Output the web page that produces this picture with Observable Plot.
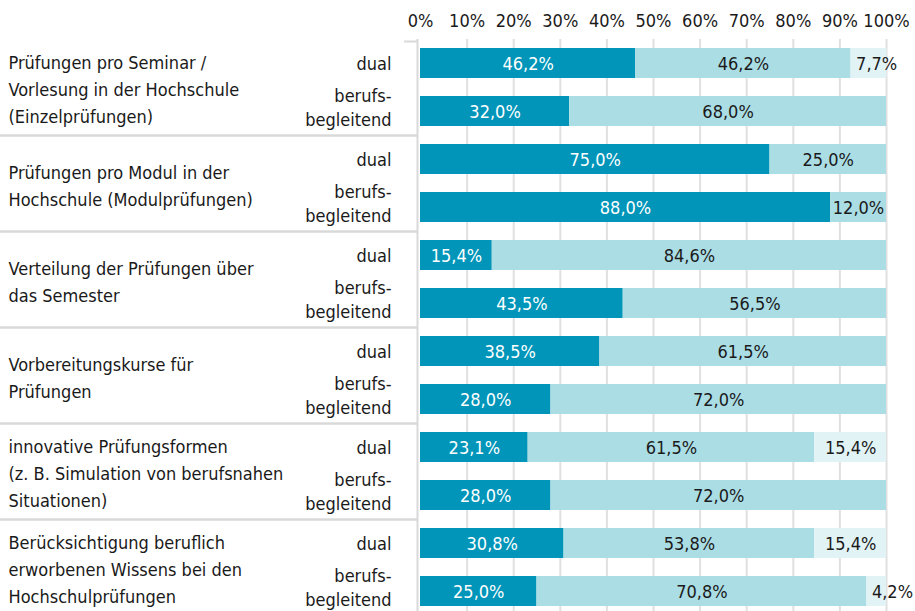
<!DOCTYPE html>
<html>
<head>
<meta charset="utf-8">
<script src="https://cdn.jsdelivr.net/npm/d3@7"></script>
<script src="https://cdn.jsdelivr.net/npm/@observablehq/plot@0.6"></script>
<style>
  html, body { margin: 0; padding: 0; background: #fff; }
  #chart svg { display: block; }
</style>
</head>
<body>
<div id="chart"></div>
<script>
const categories = [
  "Prüfungen pro Seminar /\nVorlesung in der Hochschule\n(Einzelprüfungen)",
  "Prüfungen pro Modul in der\nHochschule (Modulprüfungen)",
  "Verteilung der Prüfungen über\ndas Semester",
  "Vorbereitungskurse für\nPrüfungen",
  "innovative Prüfungsformen\n(z. B. Simulation von berufsnahen\nSituationen)",
  "Berücksichtigung beruflich\nerworbenen Wissens bei den\nHochschulprüfungen"
];
const types = ["dual", "berufs-\nbegleitend"];
// per row: category 0 dual, category 0 berufsbegleitend, category 1 dual, ...
const seg1 = [46.2, 32.0, 75.0, 88.0, 15.4, 43.5, 38.5, 28.0, 23.1, 28.0, 30.8, 25.0];
const seg2 = [46.2, 68.0, 25.0, 12.0, 84.6, 56.5, 61.5, 72.0, 61.5, 72.0, 53.8, 70.8];
const seg3 = [7.7, 0, 0, 0, 0, 0, 0, 0, 15.4, 0, 15.4, 4.2];
const xTicks = [0, 10, 20, 30, 40, 50, 60, 70, 80, 90, 100];

const colors = ["#0095b9", "#abdde5", "#e2f3f6"];
const textColors = ["#ffffff", "#1a1a1a", "#1a1a1a"];
const fontFamily = "'Liberation Sans Narrow', 'DejaVu Sans Condensed', 'Roboto', sans-serif";

const rows = d3.range(seg1.length);
const segData = [];
rows.forEach(r => {
  const vals = [seg1[r], seg2[r], seg3[r]];
  let acc = 0;
  vals.forEach((v, s) => {
    if (v > 0) {
      segData.push({row: r, seg: s, value: v, x1: acc, x2: acc + v, mid: acc + v / 2});
    }
    acc += v;
  });
});
const fmt = v => d3.format(".1f")(v).replace(".", ",") + "%";
const bigLabels = segData.filter(d => d.value >= 9);
const smallLabels = segData.filter(d => d.value < 9);

const dualRows = rows.filter(r => r % 2 === 0);
const bbRows = rows.filter(r => r % 2 === 1);
const catData = categories.map((c, i) => ({row: i * 2, text: c}));
const sepRows = bbRows.slice(0, -1);

const chart = Plot.plot({
  width: 915,
  height: 615,
  marginTop: 39,
  marginBottom: 0,
  marginLeft: 420,
  marginRight: 29,
  style: {fontFamily, fontSize: "18px", color: "#1a1a1a", background: "#fff"},
  x: {domain: [0, 100], axis: "top", ticks: xTicks, tickFormat: d => d + "%", tickSize: 0, tickPadding: 13, label: null},
  y: {type: "band", domain: rows, paddingInner: 0.375, paddingOuter: 0.1875, axis: null},
  marks: [
    Plot.ruleX(xTicks.filter(t => t > 0), {x: d => d, stroke: "#e0e0e0", strokeWidth: 2}),
    Plot.ruleX([0], {x: d => d, dx: -3, stroke: "#d9d9d9", strokeWidth: 2}),
    Plot.ruleY(sepRows, {y: d => d, dy: 24, stroke: "#d9d9d9", strokeWidth: 2.5, insetLeft: -420, insetRight: 469}),
    Plot.ruleY([0], {y: d => d, dy: -22, stroke: "#d9d9d9", strokeWidth: 2, insetLeft: -16, insetRight: 469}),
    Plot.barX(segData, {y: "row", x1: "x1", x2: "x2", fill: d => colors[d.seg]}),
    Plot.text(bigLabels, {y: "row", x: "mid", text: d => fmt(d.value), fill: d => textColors[d.seg], dy: 1}),
    Plot.text(smallLabels, {y: "row", x: "x1", text: d => fmt(d.value), fill: d => textColors[d.seg], textAnchor: "start", dx: 5, dy: 1}),
    Plot.text(catData, {y: "row", text: "text", frameAnchor: "left", dx: -412, dy: 24, textAnchor: "start", lineAnchor: "middle", lineHeight: 1.5, fill: "#1a1a1a"}),
    Plot.text(dualRows, {y: d => d, text: () => types[0], frameAnchor: "left", dx: -29, dy: 1, textAnchor: "end", fill: "#1a1a1a"}),
    Plot.text(bbRows, {y: d => d, text: () => types[1], frameAnchor: "left", dx: -29, dy: -5, textAnchor: "end", lineAnchor: "middle", lineHeight: 1.333, fill: "#1a1a1a"})
  ]
});
document.getElementById("chart").appendChild(chart);
</script>
</body>
</html>
